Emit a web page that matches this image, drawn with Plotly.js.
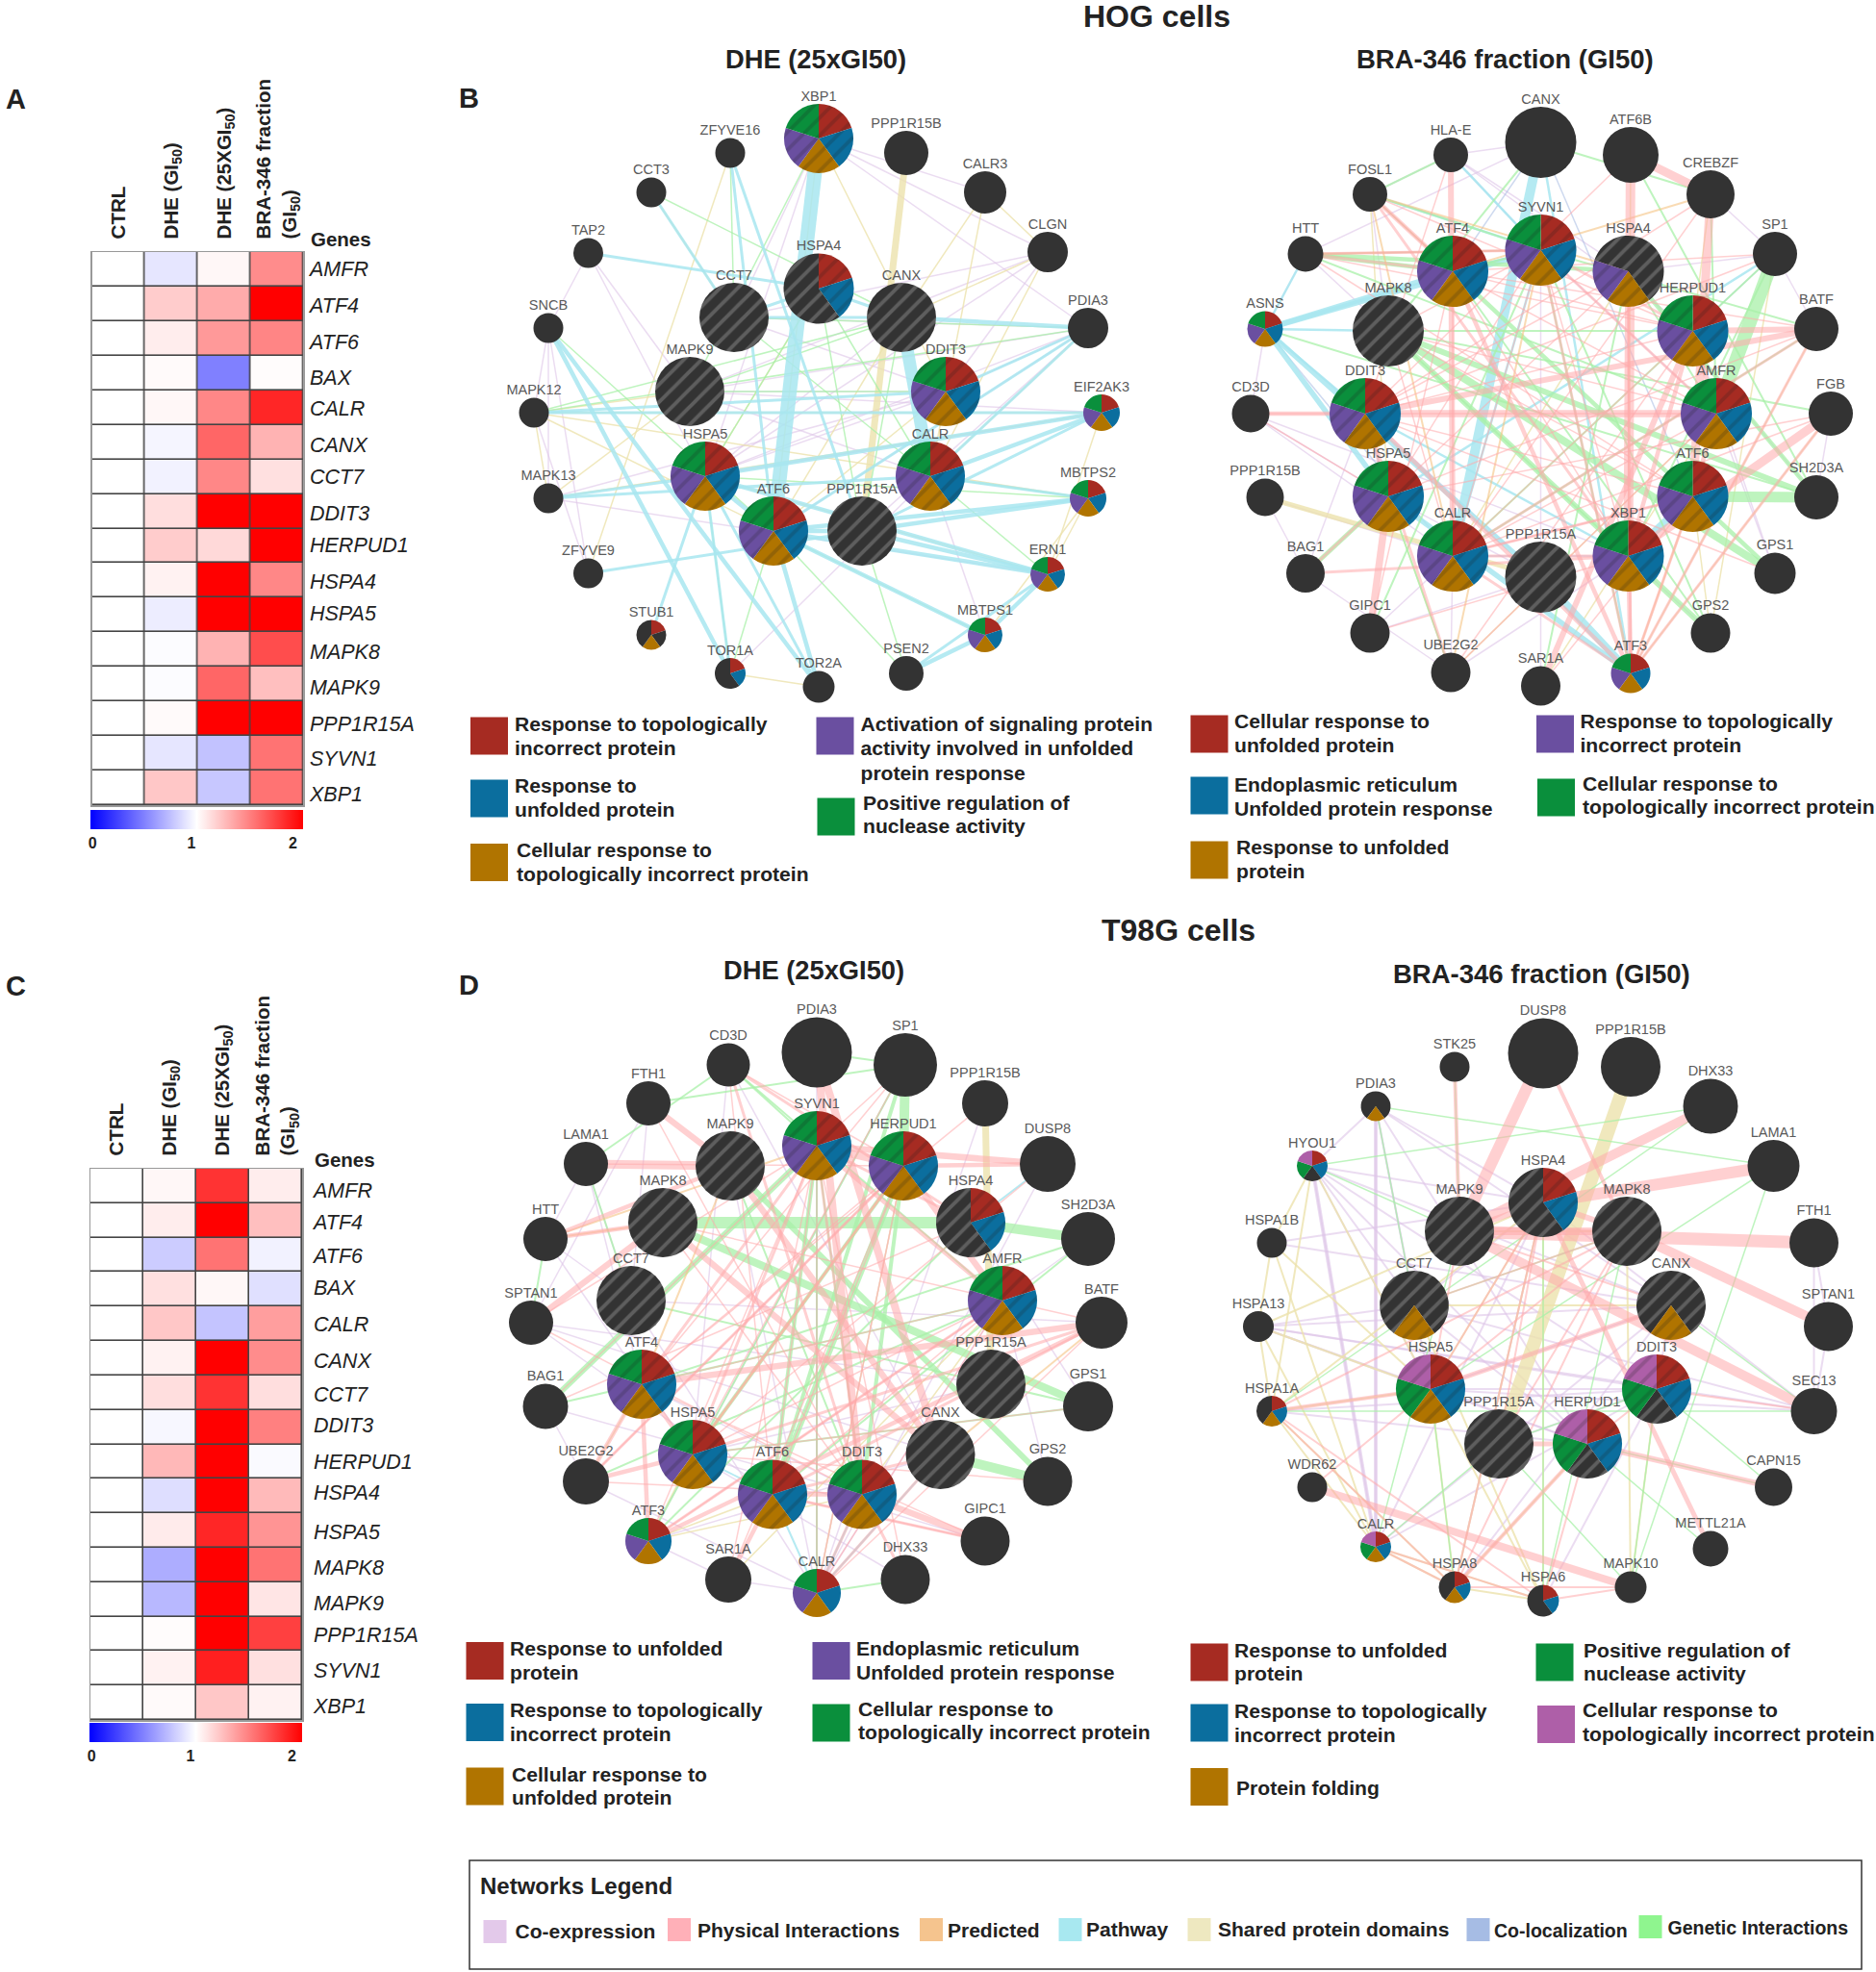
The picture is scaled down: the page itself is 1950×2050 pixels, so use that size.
<!DOCTYPE html>
<html><head><meta charset="utf-8">
<script src="https://cdn.plot.ly/plotly-3.0.1.min.js"></script>
<style>html,body{margin:0;padding:0;background:#fff}#chart{width:1950px;height:2050px}</style>
</head><body><div id="chart"></div>
<script>
const WIDTH=1950, HEIGHT=2050, FONT='"Liberation Sans", Arial, sans-serif';

/* ---------- heat maps ---------- */
const conditionLabels=['CTRL','DHE (GI<sub>50</sub>)','DHE (25XGI<sub>50</sub>)','BRA-346 fraction<br>(GI<sub>50</sub>)'];
const heatGenes=['AMFR','ATF4','ATF6','BAX','CALR','CANX','CCT7','DDIT3','HERPUD1','HSPA4','HSPA5','MAPK8','MAPK9','PPP1R15A','SYVN1','XBP1'];
const hogFold=[[1,.9,1.03,1.45],[1,1.2,1.33,2],[1,1.07,1.4,1.48],[1,1.02,.5,1.01],[1,1.03,1.47,1.85],[1,.96,1.6,1.3],[1,.95,1.47,1.12],[1,1.13,2,2],[1,1.2,1.15,2],[1,1.05,2,1.47],[1,.93,2,2],[1,.99,1.3,1.7],[1,.99,1.6,1.25],[1,1.02,2,2],[1,.9,.76,1.55],[1,1.22,.78,1.55]];
const t98gFold=[[1,1.03,1.8,1.07],[1,1.07,2,1.25],[1,.8,1.55,.95],[1,1.12,1.03,.88],[1,1.22,.77,1.38],[1,1.05,2,1.45],[1,1.13,1.8,1.13],[1,.97,2,1.5],[1,1.28,2,.98],[1,.87,2,1.27],[1,1.08,1.85,1.42],[1,.68,2,1.55],[1,.72,2,1.1],[1,1.01,2,1.75],[1,1.05,1.88,1.12],[1,1.02,1.22,1.05]];
const hogGeneLabelY=[282,320,358,395,427,465,498,536,569,607,639.5,680,717,755,791,828];
const t98gGeneLabelY=[1240,1272.5,1307.5,1340.5,1378.5,1416.5,1451.5,1483.5,1521.5,1553.5,1594.5,1631.5,1669,1701.5,1738.5,1775.5];

/* ---------- networks: HOG, DHE ---------- */
const hdGenes=['XBP1','ZFYVE16','PPP1R15B','CCT3','CALR3','TAP2','CLGN','HSPA4','CCT7','CANX','SNCB','PDIA3','MAPK9','DDIT3','MAPK12','EIF2AK3','HSPA5','CALR','MAPK13','MBTPS2','ATF6','PPP1R15A','ZFYVE9','ERN1','STUB1','MBTPS1','TOR1A','TOR2A','PSEN2'];
const hdX=[851,759,942,677,1024,611.5,1089,851,763,937,570,1131,717,983,555,1145,733,967,570,1131,804,896,611.5,1089,677,1024,759,851,942];
const hdY=[144,159,159,200,200,263,262,300,330,330,341,341,407,407,429,429,495,495,518,518,552,552,596,597,660,660,700,714,700];
const hdSize=[72,31,46,31,44,31,42,73,72,72,31,42,72,72,31,38,72,72,31,38,72,72,31,36,31,36,32,33,36];
const hdSlices=['rbypg','','','','','','','rbddd','ddddd','ddddd','','','ddddd','rbypg','','rbypg','rbypg','rbypg','','rbypg','rbypg','ddddd','','rbypg','rdydd','rbypg','rbddd','',''];
const hdEdges=[
['lav',1.5,'XBP1>CLGN XBP1>PDIA3 XBP1>HSPA5 XBP1>CCT7 XBP1>CALR3 PDIA3>MAPK9 PDIA3>HSPA5 PDIA3>ATF6 PDIA3>DDIT3 PDIA3>CCT7 CLGN>CCT7 CLGN>HSPA5 CLGN>DDIT3 CLGN>MAPK9 EIF2AK3>MAPK9 EIF2AK3>HSPA5 TAP2>SNCB TAP2>HSPA5 TAP2>MAPK9 SNCB>MAPK13 SNCB>ZFYVE9 SNCB>MAPK12 MAPK12>ZFYVE9 MAPK13>DDIT3 DDIT3>CCT7 DDIT3>MAPK9 TOR1A>CALR CALR>MBTPS1 CANX>HSPA5 HSPA5>EIF2AK3 DDIT3>HSPA5 CALR>MAPK9 ERN1>MAPK13 PDIA3>PPP1R15A'],
['beige',1.5,'CALR3>CALR CALR3>CANX CLGN>CANX CLGN>CALR CLGN>CALR3 MAPK9>MAPK12 MAPK9>MAPK13 MAPK12>MAPK13 ZFYVE16>ZFYVE9 CCT3>CCT7 TOR1A>TOR2A XBP1>DDIT3 XBP1>ATF6 DDIT3>ATF6 MBTPS1>MBTPS2 EIF2AK3>ERN1 MBTPS2>ERN1 HSPA4>HSPA5 PDIA3>CALR MAPK12>EIF2AK3 MAPK13>EIF2AK3 MAPK12>MBTPS2 ERN1>HSPA5 ATF6>MAPK12 CANX>ATF6'],
['beige',7,'PPP1R15B>PPP1R15A'],
['green',1.5,'CCT3>CANX SNCB>ATF6 HSPA4>PPP1R15A HSPA4>HSPA5 CCT7>CALR MAPK9>CANX MAPK9>DDIT3 XBP1>MAPK9 TOR1A>ATF6 CALR>ERN1 MAPK12>PDIA3 PDIA3>CCT7 HSPA5>TOR1A ATF6>PSEN2 PPP1R15A>PSEN2 CANX>PPP1R15A HSPA4>CALR ZFYVE16>CCT7 MAPK12>CANX CALR>MBTPS2 MBTPS1>ATF6 HSPA5>MBTPS2'],
['cyan',3,'ZFYVE16>PPP1R15A CCT3>CCT7 TAP2>HSPA4 MAPK12>DDIT3 MAPK12>EIF2AK3 MAPK13>CALR MAPK13>HSPA5 ZFYVE9>PPP1R15A STUB1>HSPA5 TOR1A>HSPA5 HSPA5>TOR2A CALR>PDIA3 ATF6>PDIA3 PDIA3>DDIT3 HSPA4>CCT7 PPP1R15A>EIF2AK3 CALR>MBTPS2 ERN1>PSEN2 HSPA4>CANX ZFYVE16>ATF6 CCT7>CANX'],
['cyan',4.5,'SNCB>TOR1A SNCB>TOR2A CALR>EIF2AK3 HSPA5>EIF2AK3 CANX>PDIA3 ATF6>PPP1R15A ATF6>MBTPS2 ATF6>ERN1 ATF6>MBTPS1 HSPA5>ERN1 PPP1R15A>MBTPS2 PPP1R15A>ERN1 ERN1>MBTPS1 MBTPS1>PSEN2 HSPA5>ATF6 ATF6>TOR2A'],
['cyan',13,'CANX>CALR'],
['cyan',15,'XBP1>ATF6']
];

/* ---------- networks: HOG, BRA-346 ---------- */
const hbGenes=['CANX','ATF6B','HLA-E','CREBZF','FOSL1','SP1','HTT','ATF4','SYVN1','HSPA4','MAPK8','HERPUD1','ASNS','BATF','CD3D','FGB','DDIT3','AMFR','HSPA5','ATF6','PPP1R15B','SH2D3A','CALR','XBP1','PPP1R15A','BAG1','GPS1','GIPC1','GPS2','UBE2G2','ATF3','SAR1A'];
const hbX=[1601.5,1695,1508,1778,1424,1845,1357,1510,1601.5,1692.5,1443,1759.5,1315,1888,1300,1903,1419,1784,1443,1759.5,1315,1888,1510,1692.5,1601.5,1357,1845,1424,1778,1508,1695,1601.5];
const hbY=[148,161,161,202,202,264,264,282,260,282,344,344,342,342,430,430,430,430,516,516,517,517,578,578,600,596,596,658,658,699,700,713];
const hbSize=[74,58,36,50,36,46,37,74,74,74,74,74,37,46,39,46,74,74,74,74,39,46,74,74,74,40,43,41,41,41,41,41];
const hbSlices=['','','','','','','','rbypg','rbypg','ddypd','ddddd','rbypg','rbypg','','','','rbypg','rbypg','rbypg','rbypg','','','rbypg','rbypg','ddddd','','','','','','rbypg',''];
const hbEdges=[
['lav',1.5,'CD3D>ASNS CD3D>HSPA5 CD3D>CALR HLA-E>HSPA4 HLA-E>HERPUD1 HLA-E>FOSL1 CANX>HLA-E CANX>HTT HTT>ASNS HTT>MAPK8 BAG1>PPP1R15B BAG1>UBE2G2 BAG1>DDIT3 GIPC1>PPP1R15A PPP1R15B>CALR SAR1A>PPP1R15A UBE2G2>CALR UBE2G2>XBP1 GPS1>HERPUD1 GPS2>XBP1 AMFR>SYVN1 AMFR>GPS1 SH2D3A>HSPA4 ASNS>DDIT3 FOSL1>MAPK8 SP1>HSPA4 CREBZF>SP1 SP1>BATF FGB>SH2D3A DDIT3>PPP1R15A HSPA5>PPP1R15A CD3D>XBP1 GIPC1>CALR SYVN1>PPP1R15A'],
['blue',1.5,'HLA-E>SYVN1 CANX>ATF4 CANX>ATF6 HTT>SYVN1 ASNS>CALR FOSL1>ATF4 DDIT3>HSPA5 SP1>HERPUD1 CALR>XBP1'],
['beige',1.5,'CREBZF>HERPUD1 HSPA4>CALR ATF6B>XBP1 FOSL1>HSPA5 UBE2G2>HSPA5 SAR1A>AMFR GPS2>ATF6 FGB>ATF3 BATF>ATF3 SP1>GPS2 UBE2G2>AMFR'],
['beige',5,'PPP1R15B>PPP1R15A'],
['cyan',2.5,'HLA-E>SYVN1 FOSL1>SYVN1 ATF4>SYVN1 ASNS>MAPK8 CANX>ATF3 DDIT3>XBP1 ASNS>DDIT3 CALR>SYVN1 HSPA5>SP1 HTT>ASNS'],
['cyan',5.5,'ASNS>HSPA5 ASNS>PPP1R15A ASNS>SYVN1 ASNS>ATF4 HSPA5>ATF3'],
['cyan',8,'XBP1>ATF6 PPP1R15A>ATF3'],
['cyan',10,'CANX>CALR'],
['green',2,'SYVN1>BATF ATF4>SYVN1 HSPA4>AMFR CANX>MAPK8 FOSL1>SYVN1 HLA-E>FOSL1 MAPK8>XBP1 MAPK8>HERPUD1 ATF6B>SH2D3A CREBZF>AMFR SYVN1>GPS2 CANX>CREBZF UBE2G2>HSPA5 ATF4>GPS2 SP1>XBP1 SAR1A>HSPA4 HTT>AMFR GIPC1>SYVN1 BATF>CALR MAPK8>FGB SP1>CALR ATF3>SYVN1 ASNS>SH2D3A'],
['green',4.5,'BAG1>HSPA5 HTT>ATF4 HTT>HSPA4 HSPA4>SH2D3A ATF4>GPS1'],
['green',6,'SH2D3A>MAPK8 GPS2>MAPK8'],
['green',8,'GPS1>MAPK8'],
['green',11,'SH2D3A>ATF6'],
['green',14,'SP1>AMFR'],
['orange',2,'FOSL1>ATF4 FOSL1>HSPA4 HTT>SYVN1 FOSL1>CALR CREBZF>ATF4 ATF3>ATF6 UBE2G2>SYVN1'],
['pink',1.5,'HTT>ATF6 HTT>HERPUD1 HLA-E>DDIT3 FOSL1>HERPUD1 ATF4>XBP1 ATF4>CALR ATF4>HERPUD1 ATF4>AMFR SYVN1>CALR SYVN1>HSPA5 SYVN1>XBP1 SYVN1>MAPK8 HSPA4>XBP1 HSPA4>DDIT3 HSPA4>HSPA5 MAPK8>CALR MAPK8>ATF6 MAPK8>AMFR CD3D>AMFR CD3D>HSPA5 FGB>CALR FGB>HSPA5 SP1>ATF4 SP1>DDIT3 GIPC1>ATF4 GIPC1>XBP1 UBE2G2>AMFR UBE2G2>HERPUD1 SAR1A>ATF6 GPS1>DDIT3 BATF>ATF4 BATF>HSPA5 CREBZF>DDIT3 CREBZF>CALR ATF6B>DDIT3 HERPUD1>CALR HERPUD1>DDIT3 AMFR>CALR ATF6>DDIT3 ATF6>CALR'],
['pink',3,'HTT>ATF4 HTT>SYVN1 BATF>CALR ATF3>CALR ATF3>ATF6 BAG1>HSPA5 BAG1>XBP1 HSPA4>ATF3 SYVN1>HERPUD1 SYVN1>AMFR FOSL1>XBP1 BATF>ATF3 FGB>ATF3 UBE2G2>DDIT3 SYVN1>ATF3 DDIT3>HSPA5 CALR>XBP1 CALR>ATF6'],
['pink',4.5,'FOSL1>ATF4 CD3D>DDIT3 ATF3>ATF4 ATF3>DDIT3 ATF3>XBP1 AMFR>HERPUD1 AMFR>ATF6 HERPUD1>XBP1'],
['pink',6,'HLA-E>CALR DDIT3>BATF HERPUD1>BATF SAR1A>HERPUD1'],
['pink',7.5,'HSPA5>GIPC1 DDIT3>AMFR'],
['pink',9,'ATF6B>CREBZF CREBZF>ATF6 XBP1>FGB'],
['pink',10,'ATF6B>XBP1']
];

/* ---------- networks: T98G, DHE ---------- */
const tdGenes=['PDIA3','SP1','CD3D','PPP1R15B','FTH1','SYVN1','HERPUD1','MAPK9','DUSP8','LAMA1','MAPK8','HSPA4','HTT','SH2D3A','CCT7','AMFR','SPTAN1','BATF','ATF4','PPP1R15A','BAG1','GPS1','HSPA5','CANX','UBE2G2','GPS2','ATF6','DDIT3','ATF3','GIPC1','SAR1A','DHX33','CALR'];
const tdX=[849,941,757,1024,674,849,939,759,1089,609,689,1009,567,1131,656,1042,552,1145,667,1030,567,1131,720,977.5,609,1089,803,896,674,1024,757,941,849];
const tdY=[1094,1107,1107,1147,1147,1191,1212,1212,1210,1210,1271,1271,1288,1288,1352,1352,1375,1375,1439,1439,1462,1462,1512,1512,1540,1540,1553.5,1553.5,1602,1602,1642,1642,1656];
const tdSize=[73,66,45,48,46,72,72,72,58,46,72,72,46,56,72,72,46,54,72,72,47,52,72,72,48,51,72,72,48,51,48,51,50];
const tdSlices=['','','','','','rbypg','rbypg','ddddd','','','ddddd','rbddd','','','ddddd','rbypg','','','rbypg','ddddd','','','rbypg','ddddd','','','rbypg','rbypg','rbypg','','','','rbypg'];
const tdEdges=[
['lav',1.5,'FTH1>SPTAN1 CD3D>HSPA5 CD3D>CANX FTH1>CCT7 LAMA1>ATF4 HTT>HSPA5 SPTAN1>ATF6 SPTAN1>CANX BAG1>DDIT3 BAG1>UBE2G2 UBE2G2>CALR SAR1A>CALR DHX33>HSPA5 GIPC1>HSPA5 GPS1>HSPA4 GPS2>AMFR SH2D3A>AMFR PDIA3>CALR SP1>ATF3 PPP1R15B>CALR DUSP8>CALR SYVN1>CALR HERPUD1>CALR MAPK9>CALR CCT7>CALR AMFR>CALR ATF4>DDIT3 HTT>CCT7 BATF>CCT7 SPTAN1>PPP1R15A LAMA1>CCT7 LAMA1>HTT SAR1A>ATF3 CANX>ATF3 PPP1R15A>HSPA5'],
['cyan',2,'HSPA4>DUSP8 SYVN1>CALR ATF6>HSPA5 CALR>ATF6 DDIT3>CALR CALR>CANX'],
['beige',1.5,'ATF4>UBE2G2 ATF3>ATF6 ATF3>DDIT3 SAR1A>AMFR CALR>HERPUD1 ATF3>HSPA5 DDIT3>AMFR'],
['beige',7,'PPP1R15B>PPP1R15A'],
['green',2,'LAMA1>CD3D LAMA1>CCT7 HTT>SPTAN1 CD3D>SYVN1 FTH1>SP1 PDIA3>SP1 CALR>DHX33 ATF3>HSPA4 UBE2G2>AMFR SP1>ATF3 BAG1>AMFR ATF6>SH2D3A DDIT3>SYVN1 MAPK9>DDIT3 CCT7>GPS1 CD3D>AMFR SYVN1>CALR HSPA5>GPS1 ATF4>SH2D3A'],
['green',4,'HERPUD1>HSPA5 HERPUD1>DDIT3 SYVN1>ATF6 ATF6>SP1'],
['green',6,'BAG1>SYVN1 HERPUD1>ATF6 MAPK9>GPS2'],
['green',8,'MAPK8>GPS1'],
['green',10,'SP1>HERPUD1 HSPA4>SH2D3A CANX>GPS2'],
['green',12,'MAPK8>HSPA4'],
['orange',2,'HTT>SYVN1 HTT>MAPK8 HSPA5>HERPUD1 ATF4>MAPK9 BATF>CANX'],
['pink',1.5,'CD3D>HERPUD1 CD3D>ATF6 SP1>SYVN1 SP1>HSPA5 SP1>ATF4 FTH1>DDIT3 PPP1R15B>ATF4 LAMA1>HERPUD1 SPTAN1>SYVN1 SPTAN1>DDIT3 BAG1>SYVN1 BAG1>HSPA4 GPS1>HSPA5 GPS2>HSPA5 UBE2G2>DDIT3 UBE2G2>HERPUD1 GIPC1>ATF4 GIPC1>ATF6 DHX33>SYVN1 SAR1A>SYVN1 SAR1A>HERPUD1 CALR>SYVN1 CALR>HERPUD1 CALR>AMFR ATF3>AMFR ATF3>SYVN1 HSPA5>AMFR HSPA5>DUSP8 ATF6>AMFR ATF4>AMFR DDIT3>MAPK8 ATF4>HERPUD1 ATF6>HERPUD1 ATF6>SYVN1 BATF>MAPK8 BATF>CALR'],
['pink',3,'CD3D>DDIT3 CD3D>HSPA4 HERPUD1>UBE2G2 AMFR>ATF3 DHX33>DDIT3 BATF>ATF6 BATF>HSPA5 SYVN1>DDIT3 SYVN1>HSPA5 HERPUD1>HSPA5 SYVN1>ATF4 ATF6>GIPC1 CANX>ATF6 CANX>CALR DDIT3>CALR HSPA4>SYVN1'],
['pink',4.5,'HTT>MAPK9 HTT>MAPK8 BATF>ATF3 ATF3>ATF4 UBE2G2>HSPA5 UBE2G2>ATF4 ATF4>HSPA5 DUSP8>HERPUD1 SYVN1>AMFR SAR1A>ATF6 ATF6>DDIT3'],
['pink',6.5,'FTH1>MAPK9 SPTAN1>MAPK8 BATF>ATF4 DUSP8>SYVN1 HERPUD1>AMFR MAPK9>CANX MAPK8>CANX DDIT3>GIPC1'],
['pink',8,'PDIA3>CANX SYVN1>HERPUD1 PDIA3>DDIT3'],
['pink',9,'LAMA1>MAPK9']
];

/* ---------- networks: T98G, BRA-346 ---------- */
const tbGenes=['DUSP8','PPP1R15B','STK25','DHX33','PDIA3','LAMA1','HYOU1','HSPA4','MAPK9','MAPK8','FTH1','HSPA1B','CCT7','CANX','SPTAN1','HSPA13','HSPA5','DDIT3','HSPA1A','SEC13','PPP1R15A','HERPUD1','WDR62','CAPN15','CALR','METTL21A','HSPA8','MAPK10','HSPA6'];
const tbX=[1604,1695,1512,1778,1430,1843.5,1364,1604,1517,1691,1885.5,1322,1470,1737,1900.5,1308,1487,1722,1322,1885.5,1558,1650,1364,1843.5,1430,1778,1512,1695,1604];
const tbY=[1095,1109,1109,1150,1150,1212,1212,1250,1280,1280,1292,1292,1357,1357,1379,1379,1444,1444,1467,1467,1501,1501,1546,1546,1608,1610,1650,1650,1664];
const tbSize=[73,62,31,57,31,54,32,72,72,72,51,31,72,72,51,32,72,72,32,48,72,72,31,39,32,37,33,33,33];
const tbSlices=['','','','','ddydd','','rbdgm','rbddd','ddddd','ddddd','','','ddydd','ddydd','','','rbygm','rbdgm','rbydd','','ddddd','rbdgm','','','rbygm','','rbydd','','rbddd'];
const tbEdges=[
['lav',2,'PDIA3>HSPA4 PDIA3>HSPA5 PDIA3>CALR PDIA3>CANX PDIA3>CCT7 PDIA3>HYOU1 PDIA3>HERPUD1 HYOU1>HSPA5 HYOU1>CALR HYOU1>CANX HYOU1>HERPUD1 HYOU1>CCT7 HYOU1>DDIT3 HYOU1>HSPA4 HSPA13>SEC13 HSPA13>DDIT3 HSPA13>HSPA5 HSPA13>HERPUD1 HSPA13>CCT7 HSPA13>CANX HSPA1B>HSPA4 HSPA1B>CANX SEC13>FTH1 SEC13>HSPA5 SEC13>CCT7 SEC13>HSPA4 FTH1>SPTAN1 SPTAN1>SEC13 CALR>HSPA4 CALR>CANX CALR>DDIT3 PPP1R15A>DDIT3 HSPA1A>HERPUD1 HSPA1A>DDIT3 HSPA5>DDIT3 HSPA5>HERPUD1 HSPA5>CANX CCT7>HERPUD1 CANX>DDIT3 CCT7>HSPA4 HSPA8>CANX HSPA6>DDIT3 HSPA8>HSPA4'],
['lav',4,'HYOU1>CALR PDIA3>CALR'],
['beige',2,'HSPA1B>HSPA13 HSPA13>HSPA1A HSPA1A>HSPA8 HYOU1>HSPA5 HYOU1>HSPA1A HYOU1>HSPA1B HSPA5>HSPA8 HSPA5>HSPA6 HSPA13>HSPA5 HSPA1B>HSPA5 HSPA1B>CALR HSPA8>HSPA6 HSPA1A>HSPA5 HSPA4>HSPA8 HSPA4>HSPA6 HERPUD1>HSPA8 DDIT3>MAPK10 HSPA1A>CALR CCT7>HSPA6 CALR>HSPA8 CALR>HSPA6 HSPA5>HSPA4 HSPA13>CALR CANX>CCT7 HSPA1A>HSPA4 HSPA13>HSPA4 MAPK9>MAPK8 MAPK8>MAPK10'],
['beige',14,'PPP1R15B>PPP1R15A'],
['green',1.5,'PDIA3>LAMA1 LAMA1>MAPK10 DHX33>HYOU1 STK25>MAPK9 HSPA5>LAMA1 HYOU1>MAPK9 METTL21A>HERPUD1 MAPK10>DDIT3 HSPA1A>SEC13 PPP1R15A>MAPK10 HSPA6>HSPA4 PDIA3>CCT7 CALR>MAPK9 PPP1R15A>DDIT3 HSPA1A>DHX33 CCT7>MAPK8 CANX>SEC13 HERPUD1>CAPN15 DDIT3>CAPN15 HSPA5>HSPA8 CALR>PPP1R15A HSPA6>MAPK8'],
['pink',2,'HSPA1A>MAPK8 HSPA1A>HSPA8 HSPA1A>HSPA6 HSPA5>MAPK9 HSPA5>MAPK8 HSPA5>HSPA4 HSPA8>HSPA4 HSPA8>MAPK8 HSPA6>HERPUD1 CALR>HSPA6 CALR>HSPA8 MAPK10>HSPA8 MAPK10>HSPA6 SEC13>DDIT3 PPP1R15A>HSPA4 HERPUD1>DDIT3 PPP1R15A>MAPK8 CCT7>MAPK8 CANX>MAPK9 WDR62>HSPA5'],
['pink',4,'STK25>MAPK9 DUSP8>MAPK8 HERPUD1>HSPA8 HSPA5>HSPA1A'],
['pink',5,'HSPA4>METTL21A CANX>HSPA5 PPP1R15A>HERPUD1'],
['pink',6,'CAPN15>HERPUD1 HSPA4>MAPK8 MAPK9>HSPA4'],
['pink',8,'WDR62>MAPK10 MAPK9>MAPK8'],
['pink',10,'SEC13>MAPK9 SPTAN1>MAPK8 DHX33>MAPK9'],
['pink',12,'DUSP8>MAPK9 LAMA1>HSPA4'],
['pink',13,'FTH1>MAPK9']
];

/* ---------- legends ---------- */
const hdKeyLabels=[['Response to topologically','incorrect protein'],['Response to','unfolded protein'],['Cellular response to','topologically incorrect protein'],['Activation of signaling protein','activity involved in unfolded','protein response'],['Positive regulation of','nuclease activity']];
const hdKeyColors=['r','b','y','p','g'], hdKeyX=[508.5,508.5,508.5,868,869], hdKeyY=[765,830,896.5,765,849], hdTextX=[535,535,537,894.5,897];
const hdTextY=[[755,780],[819,844],[886,911],[755,780,806],[836.5,861]];
const hbKeyLabels=[['Cellular response to','unfolded protein'],['Endoplasmic reticulum','Unfolded protein response'],['Response to unfolded','protein'],['Response to topologically','incorrect protein'],['Cellular response to','topologically incorrect protein']];
const hbKeyColors=['r','b','y','p','g'], hbKeyX=[1257,1257,1257,1616.5,1617.5], hbKeyY=[763,827,894,763,829], hbTextX=[1283,1283,1285,1642.5,1645];
const hbTextY=[[752,777],[818,843],[883,908],[752,777],[817,841]];
const tdKeyLabels=[['Response to unfolded','protein'],['Response to topologically','incorrect protein'],['Cellular response to','unfolded protein'],['Endoplasmic reticulum','Unfolded protein response'],['Cellular response to','topologically incorrect protein']];
const tdKeyColors=['r','b','y','p','g'], tdKeyX=[504,504,504,864,864], tdKeyY=[1726.5,1790.5,1857,1726.5,1791], tdTextX=[530,530,532,890,892];
const tdTextY=[[1716,1741],[1780,1805],[1847,1871],[1716,1741],[1779,1803]];
const tbKeyLabels=[['Response to unfolded','protein'],['Response to topologically','incorrect protein'],['Protein folding'],['Positive regulation of','nuclease activity'],['Cellular response to','topologically incorrect protein']];
const tbKeyColors=['r','b','y','g','m'], tbKeyX=[1257,1257,1257,1616,1617.5], tbKeyY=[1728,1791,1857.5,1728,1792.5], tbTextX=[1283,1283,1285,1646,1645];
const tbTextY=[[1718,1742],[1781,1806],[1861],[1718,1742],[1780,1805]];
const netLegendLabels=['Co-expression','Physical Interactions','Predicted','Pathway','Shared protein domains','Co-localization','Genetic Interactions'];
const netLegendColors=['#E3C9EA','#FFB0B8','#F5C48E','#A8E8F0','#EEE8C0','#A6BCE4','#8FF58F'];
const netKeyX=[514.5,706,968,1112.5,1246.5,1536.5,1715.5], netKeyY=[2008,2006,2006,2006,2006,2006,2003];
const netTextX=[535.5,725,985,1129,1266,1553,1733.6], netTextY=[2010,2009,2009,2008,2008,2009,2006];
const netTextSize=[21,21,21,21,21,19.5,19.5];

const sliceColor={r:'#A62B22',b:'#0B6E9E',y:'#B07400',p:'#6A4FA0',g:'#0A8F3C',m:'#AE5FA8',d:'#333333'};
const edgeColor={lav:'rgba(222,196,232,0.6)',blue:'rgba(165,185,225,0.55)',beige:'rgba(236,226,172,0.8)',cyan:'rgba(168,230,240,0.85)',green:'rgba(168,240,168,0.75)',orange:'rgba(245,195,130,0.6)',pink:'rgba(255,170,172,0.55)'};

const data=[];

function addNetwork(genes,xs,ys,sizes,slices,edges){
  const idx={}; genes.forEach((g,i)=>idx[g]=i);
  edges.forEach(([type,w,list])=>{
    const x=[],y=[];
    list.split(' ').forEach(p=>{
      const [a,b]=p.split('>');
      if(idx[a]===undefined||idx[b]===undefined) return;
      x.push(xs[idx[a]],xs[idx[b]],null); y.push(ys[idx[a]],ys[idx[b]],null);
    });
    data.push({type:'scatter',mode:'lines',x,y,line:{color:edgeColor[type],width:w},hoverinfo:'skip',showlegend:false,cliponaxis:false});
  });
  const plain=genes.map((g,i)=>i).filter(i=>!slices[i]);
  data.push({type:'scatter',mode:'markers',x:plain.map(i=>xs[i]),y:plain.map(i=>ys[i]),
    marker:{size:plain.map(i=>sizes[i]),sizemode:'diameter',opacity:1,color:sliceColor.d,line:{width:0}},hoverinfo:'skip',showlegend:false});
  data.push({type:'scatter',mode:'text',x:xs,y:ys.map((v,i)=>v-sizes[i]/2+0.5),text:genes,textposition:'top center',
    textfont:{family:FONT,size:14.5,color:'#5a5a5a'},hoverinfo:'skip',showlegend:false,cliponaxis:false});
  genes.forEach((g,i)=>{
    if(!slices[i]) return;
    const runs=[];
    slices[i].split('').forEach(c=>{ if(runs.length&&runs[runs.length-1][0]===c) runs[runs.length-1][1]++; else runs.push([c,1]); });
    let rotation=0;
    if(runs.length>1&&runs[0][0]===runs[runs.length-1][0]){
      const tail=runs.pop();
      runs[0][1]+=tail[1];
      rotation=-tail[1]*360/slices[i].length;
    }
    const hatch=sizes[i]>=60;
    data.push({type:'pie',values:runs.map(r=>r[1]),sort:false,direction:'clockwise',rotation,textinfo:'none',hoverinfo:'skip',showlegend:false,
      domain:{x:[(xs[i]-sizes[i]/2)/WIDTH,(xs[i]+sizes[i]/2)/WIDTH],y:[1-(ys[i]+sizes[i]/2)/HEIGHT,1-(ys[i]-sizes[i]/2)/HEIGHT]},
      marker:{colors:runs.map(r=>sliceColor[r[0]]),line:{width:0},pattern:hatch?{shape:'/',size:13,solidity:0.3,
        fgcolor:runs.map(r=>r[0]==='d'?'#5e5e5e':'rgba(30,30,30,0.2)'),fgopacity:1,fillmode:'overlay'}:undefined}});
  });
}

function addKeys(labels,colors,kx,ky,tx,ty){
  data.push({type:'scatter',mode:'markers',x:kx,y:ky,marker:{symbol:'square',size:39,color:colors.map(c=>sliceColor[c]),line:{width:0}},hoverinfo:'skip',showlegend:false});
  const x=[],y=[],text=[];
  labels.forEach((ls,i)=>ls.forEach((l,j)=>{x.push(tx[i]);y.push(ty[i][j]);text.push(l);}));
  data.push({type:'scatter',mode:'text',x,y,text,textposition:'middle right',textfont:{family:FONT,size:21.1,weight:'bold',color:'#222'},hoverinfo:'skip',showlegend:false,cliponaxis:false});
}

addNetwork(hdGenes,hdX,hdY,hdSize,hdSlices,hdEdges);
addNetwork(hbGenes,hbX,hbY,hbSize,hbSlices,hbEdges);
addNetwork(tdGenes,tdX,tdY,tdSize,tdSlices,tdEdges);
addNetwork(tbGenes,tbX,tbY,tbSize,tbSlices,tbEdges);
addKeys(hdKeyLabels,hdKeyColors,hdKeyX,hdKeyY,hdTextX,hdTextY);
addKeys(hbKeyLabels,hbKeyColors,hbKeyX,hbKeyY,hbTextX,hbTextY);
addKeys(tdKeyLabels,tdKeyColors,tdKeyX,tdKeyY,tdTextX,tdTextY);
addKeys(tbKeyLabels,tbKeyColors,tbKeyX,tbKeyY,tbTextX,tbTextY);
data.push({type:'scatter',mode:'markers',x:netKeyX,y:netKeyY,marker:{symbol:'square',size:24,color:netLegendColors,line:{width:0}},hoverinfo:'skip',showlegend:false});
data.push({type:'scatter',mode:'text',x:netTextX,y:netTextY,text:netLegendLabels,textposition:'middle right',textfont:{family:FONT,size:netTextSize,weight:'bold',color:'#222'},hoverinfo:'skip',showlegend:false,cliponaxis:false});
data.push({type:'scatter',mode:'text',x:heatGenes.map(()=>322),y:hogGeneLabelY,text:heatGenes,textposition:'middle right',textfont:{family:FONT,size:21.5,style:'italic',color:'#222'},hoverinfo:'skip',showlegend:false});
data.push({type:'scatter',mode:'text',x:heatGenes.map(()=>326),y:t98gGeneLabelY,text:heatGenes,textposition:'middle right',textfont:{family:FONT,size:21.5,style:'italic',color:'#222'},hoverinfo:'skip',showlegend:false});

const blueWhiteRed=[[0,'#0000ff'],[0.5,'#ffffff'],[1,'#ff0000']];
function heat(z,xa,ya,cbX,cbY,cbLen){
  return {type:'heatmap',x:conditionLabels,y:heatGenes,z,xaxis:xa,yaxis:ya,zmin:0,zmax:2,colorscale:blueWhiteRed,xgap:1.6,ygap:1.6,hoverinfo:'skip',
    colorbar:{orientation:'h',x:cbX/WIDTH,xanchor:'center',y:1-cbY/HEIGHT,yanchor:'top',len:cbLen,lenmode:'pixels',thickness:20,thicknessmode:'pixels',xpad:0,ypad:0,outlinewidth:0,
      tickmode:'array',tickvals:[0.02,0.95,1.905],ticktext:['0','1','2'],ticks:'',ticklabelstandoff:7,tickfont:{family:FONT,size:16,weight:'bold',color:'#222'}}};
}
data.push(heat(hogFold,'x2','y2',204.5,842,221));
data.push(heat(t98gFold,'x3','y3',203.5,1791,221));

function heatX(l,r,a){return {domain:[l/WIDTH,r/WIDTH],anchor:a,side:'top',type:'category',tickangle:-90,ticks:'outside',ticklen:8,tickcolor:'rgba(0,0,0,0)',showgrid:false,showline:true,mirror:true,linecolor:'#999',linewidth:1.5,zeroline:false,fixedrange:true,tickfont:{family:FONT,size:20.5,weight:'bold',color:'#222'}};}
function heatY(t,b,a){return {domain:[1-b/HEIGHT,1-t/HEIGHT],anchor:a,side:'right',type:'category',autorange:'reversed',showticklabels:false,ticks:'',showgrid:false,showline:true,mirror:true,linecolor:'#999',linewidth:1.5,zeroline:false,fixedrange:true};}

function txt(text,x,y,size,opt){return Object.assign({text,x,y,xref:'x',yref:'y',showarrow:false,xanchor:'center',yanchor:'middle',font:{family:FONT,size,weight:'bold',color:'#222'}},opt||{});}
const annotations=[
 txt('HOG cells',1202,17,32), txt('T98G cells',1225,967,32),
 txt('DHE (25xGI50)',848,61,27.3), txt('BRA-346 fraction (GI50)',1564,61,27.5),
 txt('DHE (25xGI50)',846,1008,27.3), txt('BRA-346 fraction (GI50)',1602,1012,27.5),
 txt('A',16,103,29), txt('B',487,102,29), txt('C',16,1025,29), txt('D',487,1024,29),
 txt('Genes',321,248,20.5,{xanchor:'left'}), txt('Genes',325,1205,20.5,{xanchor:'left'}),
 txt('Networks Legend',497,1960,24,{xanchor:'left'})
];

const layout={width:WIDTH,height:HEIGHT,autosize:false,margin:{l:0,r:0,t:0,b:0,pad:0,autoexpand:false},paper_bgcolor:'#fff',plot_bgcolor:'rgba(0,0,0,0)',showlegend:false,
  font:{family:FONT},
  xaxis:{domain:[0,1],range:[0,WIDTH],visible:false,fixedrange:true},
  yaxis:{domain:[0,1],range:[HEIGHT,0],visible:false,fixedrange:true},
  xaxis2:heatX(95.5,315.5,'y2'), yaxis2:heatY(262,837,'x2'),
  xaxis3:heatX(94,314,'y3'), yaxis3:heatY(1215,1788,'x3'),
  annotations,
  shapes:[
   {type:'rect',xref:'x2 domain',yref:'y2 domain',x0:0,x1:1,y0:0,y1:1,fillcolor:'#444',line:{width:0},layer:'below'},
   {type:'rect',xref:'x3 domain',yref:'y3 domain',x0:0,x1:1,y0:0,y1:1,fillcolor:'#444',line:{width:0},layer:'below'},
   {type:'rect',xref:'x',yref:'y',x0:488,x1:1935,y0:1934,y1:2047,line:{color:'#333',width:1.5},fillcolor:'rgba(0,0,0,0)',layer:'below'}
  ]};
Plotly.newPlot('chart',data,layout,{staticPlot:true,displayModeBar:false});
</script></body></html>
